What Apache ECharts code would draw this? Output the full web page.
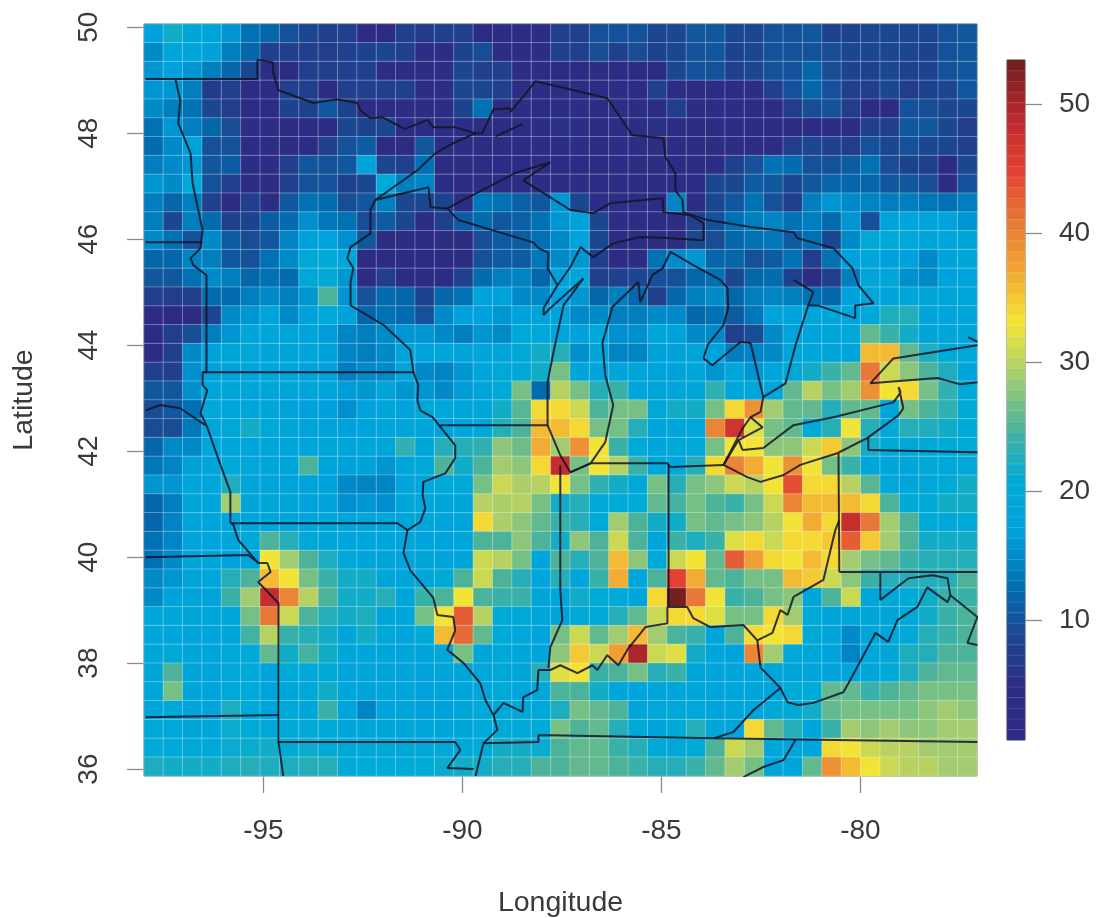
<!DOCTYPE html>
<html><head><meta charset="utf-8">
<style>html,body{margin:0;padding:0;background:#fff}#c{width:1096px;height:918px}</style>
<script src="https://cdn.jsdelivr.net/npm/echarts@6/dist/echarts.min.js"></script>
</head><body><div id="c"></div>
<script>
// Gridded values, one list per latitude row, north to south, west to east
const row00=[17,22,19,18,16,13,12,10,9,8,8,4,4,8,7,8,8,4,5,5,5,8,8,10,10,10,9,9,10.5,10.5,9,9,10,10,10.5,8.5,8.5,9,9,9,9,10,10.5];
const row01=[15,19,19,17,14,12,8,8,8,7.5,8,8.5,9,8,5,5,8.5,9.5,3,5,5,8,8,9.5,8,9.5,8.5,9,10,10.5,8.5,9,10,10,10,9.5,9,9,9,9,8.5,10,10.5];
const row02=[16,17,16,14,12,9,5,4,8,8,8,8,5,5,5,5,9,8,8,5,5,4,4,5,4,4,3,9,10,10,8,9,10,10,12,9.5,8.5,8.5,9,8.5,8.5,10,10.5];
const row03=[16,16,14,7,8,4,4,8,8,3,8,8,8,8,5,5,9,9,8,5,5,5,4,3,5,4,8,4,4,4,4,5,8,10,12,10,8,8,9,7.5,8.5,9,10.5];
const row04=[15,14,13,9,7.5,4,4,8.5,8.5,10.5,8.5,5,5,5,5,5,8.5,13,5,5,3.5,5,5,5,5,5,5,7.5,5,5,5,5,4.5,7.5,9.5,10,7.5,3,3,10,9.5,9,9];
const row05=[13,16,14,12,9.5,4.5,5,4.5,3.5,3,9,8.5,9,5,5,5,5,4.5,4,5,5,5.5,5,3.5,5,5,5.5,5,4.5,4.5,4,4,4,3.5,4,4,3.5,8,8,10.5,10.5,9,7.5];
const row06=[12.5,15,17,10,10,4,4.5,4.5,3,8,10,11,4,3.5,10.5,5,5,4.5,4.5,5,5,5,5,3.5,5,5,4.5,3.5,4.5,4.5,4.5,3,3,7.5,9,8,7.5,10,9,10,9,9,8];
const row07=[14,15,16,10.5,11,5,5,8,10.5,10,10.5,18,9,8,13,5,4.5,4,4,4,4.5,4,4,3.5,4,4.5,4.5,4,4.5,5,8,10,13,12.5,10,10,11,13,9.5,8.5,8,3.5,9];
const row08=[16,15,20,10,8,4.5,4.5,8,10,10,8,9,20,14,14.5,5,5,5,4,4.5,5,5,5,5,5,4,5,5,5,9,9,11,10.5,9,10.5,12,12,12,10.5,10.5,9.5,3,10];
const row09=[14,12,14,8,4,8,5,10.5,13,12.5,9.5,10.5,14,9,9,8.5,5,13.5,13,11.5,10.5,16,9,5,5,5,5,14.5,5,9,10.5,13,10,8,14,16,15,14.5,14,14,13.5,13,14];
const row10=[14,9,14,12.5,8,8.5,11,12.5,15.5,13.5,13,9.5,11,9,5,8,11,12.5,10.5,11.5,13,16,17,9,5,5,4,5,8,10,13,14,14.5,13,14,12.5,16,10,18,19,18,18,16];
const row11=[15,13,10,15,11,9.5,10.5,14.5,17,17.5,15.5,10.5,4.5,4.5,4.5,4.5,4.5,9.5,11,11,13,15,18,9,4.5,4.5,4.5,4.5,9,9.5,12,13,13.5,11,13,9,15,20,20,20,19,19,19];
const row12=[12,12,14.5,14,10.5,10,13,15,20,20.5,19,4,4,4,4,4,3.5,10,11,11,13.5,15,16,8,3.5,4,13,15,16,12,12,10,11,13,7.5,13,17,19,17,17,15,17,19];
const row13=[10.5,10.5,13,15,14,12,13,12.5,20,20,16,3.5,7.5,4,3.5,3.5,8,12.5,14,14.5,12,17,19,8,8,9,10,10,12,13,9,12,12.5,8.5,3.5,8,14,19,19,15.5,15,17,18];
const row14=[8,7.5,8,12.5,12.5,14,15,14,16,25,16,10,12.5,12,8.5,12,13,18,17,15,15,17,16,12,14,12,8,12,14,15,12,14,14.5,14,13,12,17,19,19,19,18.5,18.5,18.5];
const row15=[3.5,3.5,3.5,9,15,16,18,15,17,20,17,12,13,12.5,10,15,17,17,16,17,18,17,15,15,14,14,15,15,12,13,11,13.5,18,18,19,19,19,20,22.5,23,19,19,19];
const row16=[3.5,7.5,9.5,14,16,19,19,18,18,16.5,14.5,14,15,16,16,15,14,16,15,20,20,19,17,20,15.5,15.5,19,17,15,15,8,9.5,15,18,18,18.5,20,26,24,22,19,19,19];
const row17=[3.5,8,15,17,19,19.5,19,18,19,17,14.5,14,15,19,18,18.5,17.5,19,18.5,20,22,23,15.5,18.5,14.5,14.5,17,17,19,17,14,14.5,15,19,19,19,19,36,36,26,22.5,21,20];
const row18=[8,8,15.5,17,18,19,19,18.5,18,17.5,14,15,15,19,15,14.5,16,19,20,20,22,27,19,19,19,18,18,17,19,16,19,16,19,20,22,24,26,41,31,28,25,22.5,19];
const row19=[10.5,10.5,15.5,18,19,19,19,19,19,18,16.5,16,18,16,16,15,16.5,19,21,27,12.5,30,27,23,24,19,19,18.5,19,23.5,19,19,19.5,26,30,27,29,39,33,34,27,23.5,21];
const row20=[9.5,10.5,13,19.5,19,19,19,18,17,17,15.5,17.5,19,18,20,19.5,19,19,22,25.5,34,34,31,25,27,27,20,22,22,27,34,39,29,26,26,23,26,26,19,27,25,23.5,21];
const row21=[9.5,9.5,13.5,19,20,22,20,19,18,18,17,17.5,19,19,19,18,19,20,23,25,36,36,34,27,27,23,19,19,19.5,40,47,32,27,26,21,23,33,23,21,23,22.5,22,21];
const row22=[12,15,15,19,19,19,19,19,19,19,18.5,19,18.5,23.5,19,23,23,23.5,28,26.5,37,29,39,33,24,21,19,20,20,27,33,33,28,28,31,35,28,22,21,20,20.5,21,21];
const row23=[13.5,14.5,17,19,20.5,19.5,19,19,25,19,17,17,16,19,20,25,22,25,29,28,34,48,27,33,30,24,20,19,23,34,40,37,33,39,33,27,24,19,19,19,20,20,20];
const row24=[16,16,19,19,22.5,19,19,17.5,18,17,15,14.5,14.5,19,19,21,20,27,31,29.5,30,33,27,23.5,22,20,27,23,27,28,31,30,33,44,34,34,30,25.5,19.5,19,20,21,22];
const row25=[12,14,19,19,29,19,19,19,18,18,15.5,16,15.5,19,19,19,19,30,29.5,30,27,22,23,20,21,21,26,24.5,27,25,24,27,31,40,36,36,36,34,25,21,21,22,22];
const row26=[12,14.5,19,19,19,19,19,19,19,19,19,19,19,19,19,19,19,34,29.5,28,26,24,23,21,29,25,22,22,27,26,27,28,30,33,37,34,48,41,29,25,21,20,21];
const row27=[13,14.5,19,18.5,18.5,20,25,23,20,19,19,19,19,18.5,18,18,19,25,25,28,25,22,28,25,31,25,19,24,22.5,24,32,34,31,34,34,35,43,35,29,25,22,22,22];
const row28=[13,15,19,19,18,19,33,29,25,22.5,20,19,19,19,19,19,19,31,30,27,19,25,23,25,36,28,20,31,33,26,43,38,34,33,36,34,29,27,26,24,23,23,23];
const row29=[15,16,18,19,23,25,36,33,27,24,22,22,19,19,19,21,25,31,25,23,19,23,19,24,37,19,25,45,37,26,25,27,27,36,35,31,28,24,23,23,23,23,25];
const row30=[15,17,18,18,24,29,48,40,30,25,22,22,23,19,24,25,33,25,24,24,19,19,22,21,21,19,34,53,41,33,24,25,27,28,19,25,31,19,20,21,22,24,24];
const row31=[19,19,19,19,19,27,41,31,25,23,22,22.5,19,19,27,33,43,30,21,20,19,18,20,20,23,26,31,34,34,32,27,27,34,29,20,19,19,19,19,20,22,24,25];
const row32=[19,19,19,19,19,24.5,30,24,23,22,19,22,20,19,21,36,42,26,21,19.5,19,27,31,26,29,36,29,25,24,19,25,34,33,34,20,19,15,19,19,20.5,23,24,25];
const row33=[19,20,19,19,20,21,26,22,24.5,22,19,19,19,19,19,20,27,19,19.5,19,19,28,35,31,38,50,31,32,22,19,17.5,40,29,20,19,17.5,14.5,19,19,22.5,23,25,25];
const row34=[19,25,19,19,19.5,21,19,21,20.5,21,19,19,19,19,18,19,19,20,20,19,23,32,33,24,25,27,23,24,19,19,19,19,19,19,19,18,19,19,21,22.5,25,26,26];
const row35=[19,27,19,18,20,20.5,19,19,20,22,19,18,18.5,19,17.5,18,19,19,21,19,19.5,25,25,22,19,19,19,19,19,19,19,19,19,21,21,26,26,24,25,26,27,27,27];
const row36=[19,20,19,19,22.5,20.5,19,20,19,24,17.5,14.5,18,18.5,17,17,19,20.5,21,20,20,22.5,27,26,25,19,19.5,20,19.5,19,19,19,20,21,22,26,27,27,27,27,28,29,28];
const row37=[20,19.5,19,19,21.5,21,20,20.5,20.5,21,19,19,19,19,19,19,19,20.5,21,20.5,21,27,25,26,23,21,19,21,23,19,19,34,26,23,19,24,29,28,29,28,28,29,29];
const row38=[21,20.5,20,20,21.5,21.5,22,21,21.5,21,20,20,20,20,20,20,20,21,22,22,21.5,25,26,26,24,23,21,20,21,25,31,29,19,19,19,34,33,31,30,30,29,29,29];
const row39=[22.5,22,22,22,22.5,23,22.5,22.5,23,23,21,21,21,21,21,21.5,22,22,23,23,25,25,26,26,25,24,23,23,24,26,29,27,19,19,26,39,36,33,31,30,30,29,29];
const rows=[row00,row01,row02,row03,row04,row05,row06,row07,row08,row09,row10,row11,row12,row13,row14,row15,row16,row17,row18,row19,row20,row21,row22,row23,row24,row25,row26,row27,row28,row29,row30,row31,row32,row33,row34,row35,row36,row37,row38,row39];

const colorbarLevels=[1.26,2.08,2.91,3.73,4.55,5.38,6.20,7.02,7.85,8.67,9.49,10.32,11.14,11.96,12.79,13.61,14.43,15.26,16.08,16.90,17.73,18.55,19.37,20.20,21.02,21.84,22.67,23.49,24.31,25.14,25.96,26.78,27.61,28.43,29.25,30.08,30.90,31.72,32.55,33.37,34.19,35.02,35.84,36.66,37.49,38.31,39.13,39.96,40.78,41.60,42.43,43.25,44.07,44.90,45.72,46.54,47.37,48.19,49.01,49.84,50.66,51.48,52.31,53.13];
const palette=['#2e2a85','#2d2d84','#1c4590','#0070b2','#00a2dc','#00aad6','#4db399','#a5cd70','#f4e534','#f2a833','#e67537','#e33d31','#b6272e','#6e1f1f'];

const lonTicks=[-95,-90,-85,-80];
const latTicks=[36,38,40,42,44,46,48,50];
const barTicks=[10,20,30,40,50];

// Boundary polylines, [longitude, latitude]
const canadaBorder=[[-97.96,49.02],[-95.15,49.02],[-95.15,49.38],[-94.77,49.34],[-94.75,49.13],[-94.62,48.81],[-93.74,48.57],[-93.14,48.64],[-92.64,48.57],[-92.56,48.43],[-92.31,48.28],[-92.01,48.30],[-91.63,48.15],[-91.43,48.08],[-90.88,48.25],[-90.73,48.11],[-90.18,48.11],[-89.67,48.00],[-89.50,48.00],[-89.22,48.45],[-88.79,48.47],[-88.79,48.40],[-88.34,48.81],[-88.17,48.98],[-87.54,48.87],[-86.36,48.66],[-85.73,47.96],[-84.95,47.91],[-84.90,47.55],[-84.65,47.25],[-84.65,46.92],[-84.47,46.74],[-84.45,46.51],[-83.84,46.36],[-82.76,46.23],[-81.68,46.13],[-81.58,46.02],[-80.68,45.83],[-80.20,45.45],[-80.05,45.13],[-79.67,44.79],[-80.13,44.75],[-80.13,44.51],[-81.08,44.75],[-81.31,44.75],[-81.18,45.00],[-81.68,45.23],[-81.18,45.00],[-81.31,44.75],[-81.63,44.00],[-81.88,43.28],[-82.44,43.02],[-82.51,42.74],[-82.76,42.64],[-82.96,42.43],[-83.44,41.74]];
const superiorStub=[[-89.17,47.94],[-88.49,48.17]];
const erieShore=[[-82.96,42.02],[-82.44,42.06],[-81.68,42.49],[-80.68,42.64],[-79.17,42.92],[-78.99,43.11],[-79.04,43.21],[-78.92,42.81],[-79.04,42.68],[-79.82,42.25],[-80.58,41.96],[-81.51,41.74],[-81.93,41.55],[-82.51,41.42],[-82.84,41.51],[-83.44,41.74],[-83.06,42.21],[-82.46,42.45],[-82.76,42.64]];
const erieLink=[[-83.06,42.21],[-82.96,42.02]];
const ontarioNorth=[[-79.75,43.28],[-79.17,43.75],[-77.06,44.00]];
const ontarioSouth=[[-79.75,43.28],[-78.06,43.38],[-77.49,43.26],[-77.06,43.30]];
const ontarioStub=[[-77.29,44.15],[-77.06,44.06]];
const mississippi=[[-89.67,48.00],[-90.23,47.81],[-90.68,47.62],[-91.13,47.30],[-92.19,46.74],[-92.31,46.55],[-92.31,46.11],[-92.81,45.85],[-92.89,45.64],[-92.74,45.45],[-92.81,45.19],[-92.81,44.75],[-91.98,44.38],[-91.31,43.91],[-91.23,43.49],[-91.11,43.25],[-91.13,42.96],[-91.06,42.77],[-90.75,42.64],[-90.18,42.11],[-90.18,41.87],[-90.43,41.58],[-90.98,41.42],[-91.00,41.17],[-90.93,40.92],[-91.06,40.66],[-91.38,40.51],[-91.48,40.08],[-91.31,39.75],[-90.73,39.23],[-90.63,38.91],[-90.23,38.87],[-90.18,38.62],[-90.38,38.25],[-89.97,38.00],[-89.55,37.62],[-89.42,37.30],[-89.22,37.02],[-89.12,36.74],[-89.47,36.49],[-89.67,35.87]];
const ohioRiver=[[-89.22,37.02],[-88.97,37.25],[-88.49,37.08],[-88.47,37.36],[-88.12,37.49],[-88.09,37.87],[-87.79,37.87],[-87.54,37.96],[-87.11,37.81],[-86.73,37.96],[-86.61,37.87],[-86.36,38.15],[-86.08,37.96],[-85.83,38.28],[-85.40,38.68],[-84.85,38.75],[-84.85,39.06],[-84.35,39.06],[-84.20,38.85],[-83.77,38.68],[-82.94,38.72],[-82.59,38.43],[-82.21,38.57],[-82.01,39.00],[-81.83,38.91],[-81.68,39.25],[-80.93,39.57],[-80.63,40.51],[-80.53,40.70]];
const illinoisIndiana=[[-87.54,41.74],[-87.54,39.38],[-87.49,38.81],[-87.79,38.30],[-87.84,37.91]];
const indianaOhio=[[-84.82,41.74],[-84.82,39.06]];
const michiganSouth=[[-87.29,41.60],[-86.78,41.77],[-84.85,41.77],[-84.77,41.70],[-83.44,41.74]];
const michiganWest=[[-87.29,41.60],[-86.78,41.77],[-86.41,42.17],[-86.21,42.87],[-86.41,43.43],[-86.48,44.04],[-86.23,44.72],[-85.58,45.19],[-85.53,44.81],[-85.23,45.32],[-84.97,45.45],[-84.77,45.76],[-84.20,45.51],[-83.52,45.23],[-83.34,45.08],[-83.32,44.70],[-83.44,44.38],[-83.84,44.00],[-83.94,43.75],[-83.72,43.62],[-83.01,44.06],[-82.76,44.04],[-82.44,43.02]];
const wisconsinShore=[[-87.29,41.60],[-87.54,41.92],[-87.86,42.49],[-87.86,43.30],[-87.71,43.87],[-87.46,44.75],[-86.96,45.26],[-87.79,44.70],[-87.96,44.57],[-87.96,44.70],[-87.61,45.13],[-87.86,45.45],[-87.84,45.74],[-88.09,45.83],[-88.22,45.94],[-90.10,46.36],[-90.38,46.58]];
const upperPeninsula=[[-87.61,45.13],[-87.29,45.47],[-87.03,45.85],[-86.71,45.66],[-86.21,45.92],[-85.53,46.04],[-84.85,46.02],[-83.94,45.98],[-83.94,46.30],[-84.27,46.45],[-84.95,46.51],[-84.97,46.77],[-86.28,46.68],[-86.71,46.49],[-87.29,46.55],[-87.79,46.79],[-88.47,47.11],[-87.79,47.45],[-88.67,47.25],[-90.38,46.58],[-90.80,46.60],[-90.85,46.98],[-92.19,46.74]];
const westBorder=[[-97.21,49.02],[-97.09,48.62],[-97.14,48.19],[-96.83,47.62],[-96.78,47.06],[-96.53,46.17],[-96.58,45.83],[-96.83,45.64],[-96.76,45.51],[-96.43,45.32],[-96.43,43.49],[-96.53,43.49],[-96.53,43.25],[-96.41,43.15],[-96.58,42.72],[-96.41,42.45],[-96.08,41.74],[-95.83,41.23],[-95.83,40.66],[-95.75,40.60],[-95.63,40.32],[-95.13,39.89],[-94.90,39.89],[-94.82,39.72],[-95.13,39.53],[-94.62,39.13],[-94.62,36.51],[-94.50,35.87]];
const dakotaLine=[[-97.96,45.94],[-96.53,45.94]];
const nebraskaNorth=[[-97.96,42.77],[-97.59,42.87],[-97.09,42.81],[-96.46,42.49]];
const nebraskaSouth=[[-97.96,40.00],[-95.38,40.04],[-95.13,39.89]];
const iowaMissouri=[[-95.83,40.64],[-91.63,40.64],[-91.38,40.51]];
const minnesotaIowa=[[-96.53,43.49],[-91.23,43.49]];
const illinoisWisconsin=[[-90.55,42.49],[-87.86,42.49]];
const kansasOklahoma=[[-97.96,36.98],[-94.62,37.02]];
const missouriArkansas=[[-94.62,36.51],[-90.18,36.51],[-90.05,36.36],[-90.38,36.02],[-89.72,36.00]];
const tennesseeNorth=[[-89.47,36.49],[-88.09,36.51],[-88.09,36.64],[-87.79,36.64],[-83.69,36.58],[-77.06,36.51]];
const tennesseeCarolina=[[-82.94,35.85],[-82.44,36.04],[-81.93,36.17],[-81.63,36.55]];
const kentuckyVirginia=[[-82.01,37.53],[-82.69,37.11],[-83.19,36.70],[-83.69,36.58]];
const westVirginia=[[-82.59,38.43],[-82.51,37.92],[-82.01,37.53],[-81.83,37.26],[-81.56,37.21],[-81.18,37.25],[-80.43,37.45],[-80.30,37.62],[-79.62,38.57],[-79.30,38.40],[-79.07,38.81],[-78.57,39.06],[-78.32,39.43],[-77.81,39.15],[-77.74,39.28],[-77.81,39.60],[-78.19,39.66],[-78.79,39.60],[-79.50,39.19],[-79.50,39.70]];
const potomac=[[-77.74,39.28],[-77.06,38.87],[-77.31,38.38],[-77.06,38.34]];
const pennsylvaniaSouth=[[-80.53,39.72],[-77.06,39.72]];
const ohioPennsylvania=[[-80.55,41.96],[-80.53,39.72]];
const pennsylvaniaNewYork=[[-79.80,42.25],[-79.80,42.02],[-77.06,41.98]];
const boundaries=[canadaBorder,superiorStub,erieShore,erieLink,ontarioNorth,ontarioSouth,ontarioStub,mississippi,ohioRiver,illinoisIndiana,indianaOhio,michiganSouth,michiganWest,wisconsinShore,upperPeninsula,westBorder,dakotaLine,nebraskaNorth,nebraskaSouth,iowaMissouri,minnesotaIowa,illinoisWisconsin,kansasOklahoma,missouriArkansas,tennesseeNorth,tennesseeCarolina,kentuckyVirginia,westVirginia,potomac,pennsylvaniaSouth,ohioPennsylvania,pennsylvaniaNewYork];

const nRows=rows.length;
const colCats=rows[0].map((_,i)=>String(i));
const rowCats=rows.map((_,i)=>String(i));
const cells=[];
rows.forEach((r,j)=>r.forEach((v,i)=>cells.push([i,nRows-1-j,v])));
const barCells=colorbarLevels.map((v,i)=>[0,i,v]);

const font='"Liberation Sans",Arial,sans-serif';
const textColor='#3a3a3a', tickColor='#8a8a8a';
const labelStyle={fontFamily:font,fontSize:28,color:textColor};
const nameStyle={fontFamily:font,fontSize:28.5,color:textColor};

const chart=echarts.init(document.getElementById('c'),null,{renderer:'canvas'});
chart.setOption({
  animation:false,
  backgroundColor:'#fff',
  grid:[
    {left:144,top:24,width:833,height:752,show:true,borderColor:'#666',borderWidth:1,containLabel:false,outerBoundsMode:'none'},
    {left:1007,top:60,width:18,height:680,show:true,borderColor:'#666',borderWidth:1,containLabel:false,outerBoundsMode:'none'}
  ],
  visualMap:{show:false,type:'continuous',min:0.75,max:53.4,seriesIndex:[0,1],dimension:2,inRange:{color:palette}},
  xAxis:[
    {type:'category',gridIndex:0,data:colCats,show:false},
    {type:'value',gridIndex:0,position:'bottom',min:-98,max:-77.07,
      axisLine:{show:false},splitLine:{show:false},
      axisTick:{show:true,length:17,customValues:lonTicks,lineStyle:{color:tickColor,width:1.3}},
      axisLabel:{show:true,customValues:lonTicks,margin:41,...labelStyle,formatter:v=>String(v)},
      name:'Longitude',nameLocation:'middle',nameGap:113,nameTextStyle:nameStyle},
    {type:'category',gridIndex:1,data:['0'],show:false}
  ],
  yAxis:[
    {type:'category',gridIndex:0,data:rowCats,show:false},
    {type:'value',gridIndex:0,position:'left',min:35.87,max:50.06,
      axisLine:{show:false},splitLine:{show:false},
      axisTick:{show:true,length:17,customValues:latTicks,lineStyle:{color:tickColor,width:1.3}},
      axisLabel:{show:true,customValues:latTicks,rotate:90,margin:41,...labelStyle,formatter:v=>String(v)},
      name:'Latitude',nameLocation:'middle',nameGap:105,nameRotate:90,nameTextStyle:nameStyle},
    {type:'category',gridIndex:1,data:colorbarLevels.map(String),show:false},
    {type:'value',gridIndex:1,position:'right',min:0.75,max:53.4,
      axisLine:{show:false},splitLine:{show:false},
      axisTick:{show:true,length:17,customValues:barTicks,lineStyle:{color:tickColor,width:1.3}},
      axisLabel:{show:true,customValues:barTicks,margin:34,...labelStyle,formatter:v=>String(v)}}
  ],
  series:[
    {type:'heatmap',name:'values',xAxisIndex:0,yAxisIndex:0,data:cells,progressive:0,silent:true,
      itemStyle:{borderColor:'rgba(255,255,255,0.3)',borderWidth:1},emphasis:{disabled:true},z:2},
    {type:'heatmap',name:'colorbar',xAxisIndex:2,yAxisIndex:2,data:barCells,progressive:0,silent:true,
      itemStyle:{borderColor:'rgba(255,255,255,0.2)',borderWidth:0.6},emphasis:{disabled:true},z:2},
    ...boundaries.map(b=>({type:'line',xAxisIndex:1,yAxisIndex:1,data:b,showSymbol:false,symbol:'none',silent:true,
      lineStyle:{color:'rgba(20,20,40,0.85)',width:2},z:5}))
  ]
});
</script></body></html>
